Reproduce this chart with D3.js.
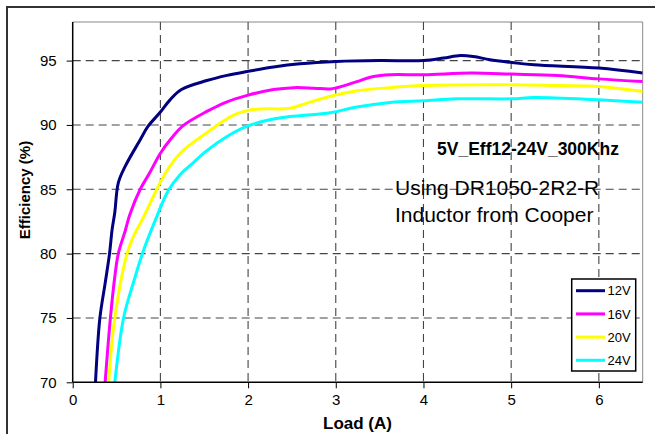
<!DOCTYPE html>
<html><head><meta charset="utf-8">
<script src="https://cdn.jsdelivr.net/npm/d3@7"></script>
<style>body{margin:0;background:#fff}svg{display:block}text{font-family:"Liberation Sans",Arial,sans-serif}</style>
</head><body>
<svg id="c" width="655" height="434"></svg>
<script>
const seriesNames = ["12V", "16V", "20V", "24V"];
const seriesColors = ["#000080", "#ff00ff", "#ffff00", "#00ffff"];
const xTicks = [0, 1, 2, 3, 4, 5, 6];
const yTicks = [70, 75, 80, 85, 90, 95];
const load12 = [0.26,0.31,0.37,0.42,0.45,0.48,0.52,0.60,0.77,0.86,1.0,1.11,1.24,1.53,1.76,1.99,2.29,2.59,3.01,3.5,4.0,4.23,4.42,4.57,4.76,5.01,5.26,6.0,6.5];
const eff12  = [70,75,77.7,80,81.9,83.2,85.5,86.8,88.85,89.9,91.0,91.95,92.75,93.45,93.85,94.15,94.5,94.75,94.93,95.0,95.0,95.2,95.4,95.32,95.06,94.85,94.67,94.42,94.03];
const load16 = [0.37,0.43,0.48,0.52,0.60,0.65,0.77,0.88,1.0,1.13,1.26,1.53,1.76,1.99,2.29,2.52,2.75,2.94,3.09,3.24,3.43,3.62,4.0,4.54,5.01,5.53,6.0,6.5];
const eff16  = [70,75,78.2,80,81.8,83.0,85,86.3,87.8,89.0,89.95,91.05,91.8,92.3,92.75,92.9,92.86,92.8,93.04,93.37,93.76,93.9,93.9,94.03,93.95,93.84,93.58,93.37];
const load20 = [0.41,0.48,0.62,0.69,0.79,0.96,1.07,1.24,1.53,1.83,2.06,2.48,2.67,3.01,3.24,3.62,4.0,5.01,5.53,6.0,6.5];
const eff20  = [70,75,80,81.3,82.6,85,86.4,87.9,89.4,90.75,91.2,91.3,91.7,92.34,92.65,92.9,93.06,93.12,93.06,92.99,92.6];
const load24 = [0.48,0.58,0.69,0.81,0.96,1.09,1.22,1.38,1.53,1.76,1.99,2.21,2.48,2.94,3.24,3.62,4.0,4.38,5.01,5.26,6.0,6.5];
const eff24  = [70,75,77.7,80.3,82.9,84.9,86.1,87.1,88.0,89.1,89.9,90.35,90.65,90.95,91.4,91.75,91.88,92.03,92.03,92.13,91.95,91.77];
const loads = [load12, load16, load20, load24];
const effs = [eff12, eff16, eff20, eff24];
const titleText = "5V_Eff12-24V_300Khz";
const noteLines = ["Using DR1050-2R2-R", "Inductor from Cooper"];

const svg = d3.select("#c");
const L = 72.7, T = 22, R = 642.7, B = 382.3;
const x = d3.scaleLinear().domain([0, 6.5]).range([L, R]);
const y = d3.scaleLinear().domain([70, 98]).range([B, T]);

// outer frame
svg.append("path").attr("d", `M7,440 L7,7 L660,7`).attr("fill","none").attr("stroke","#333").attr("stroke-width",2);

// plot area border (top/right)
svg.append("path").attr("d", `M${L},${T} L${R},${T} L${R},${B}`).attr("fill","none").attr("stroke","#888").attr("stroke-width",1);

// gridlines
const g = svg.append("g");
g.selectAll(".hg").data(yTicks.filter(d => d > 70)).enter().append("line")
  .attr("x1", L).attr("x2", R).attr("y1", d => y(d)).attr("y2", d => y(d))
  .attr("stroke", "#444").attr("stroke-width", 1.1).attr("stroke-dasharray", "8,5");
g.selectAll(".vg").data(xTicks.filter(d => d > 0)).enter().append("line")
  .attr("y1", T).attr("y2", B).attr("x1", d => x(d)).attr("x2", d => x(d))
  .attr("stroke", "#444").attr("stroke-width", 1.1).attr("stroke-dasharray", "8,5");

// annotation texts
svg.append("text").attr("x", 437).attr("y", 155).attr("font-size", 17.5).attr("font-weight", "bold").attr("fill","#000").text(titleText);
noteLines.forEach((t, i) => {
  svg.append("text").attr("x", 395).attr("y", 195 + i * 26.5).attr("font-size", 21).attr("fill","#000").text(t);
});

// series lines
svg.append("clipPath").attr("id","clip").append("rect").attr("x",L).attr("y",T).attr("width",R-L).attr("height",B-T);
const line = d3.line().x(d => x(d[0])).y(d => y(d[1])).curve(d3.curveCatmullRom.alpha(0.5));
const lg = svg.append("g").attr("clip-path","url(#clip)");
seriesNames.forEach((n, i) => {
  const pts = loads[i].map((v, j) => [v, effs[i][j]]);
  lg.append("path").datum(pts).attr("d", line).attr("fill","none")
    .attr("stroke", seriesColors[i]).attr("stroke-width", 3).attr("stroke-linejoin","round");
});

// axes
const xAxis = d3.axisBottom(x).tickValues(xTicks).tickSize(6).tickPadding(6).tickFormat(d3.format("d"));
const xa = svg.append("g").attr("transform", `translate(0,${B})`).call(xAxis);
const yAxis = d3.axisLeft(y).tickValues(yTicks).tickSize(6).tickPadding(10).tickFormat(d3.format("d"));
const ya = svg.append("g").attr("transform", `translate(${L},0)`).call(yAxis);
[xa, ya].forEach(a => {
  a.select(".domain").attr("stroke", "#000").attr("stroke-width", 1.5);
  a.selectAll(".tick line").attr("stroke", "#000").attr("stroke-width", 1);
  a.selectAll(".tick text").attr("font-size", 15).attr("fill", "#000").attr("font-family", '"Liberation Sans",Arial,sans-serif');
});
xa.select(".domain").attr("d", `M${L},0H${R}`);
ya.select(".domain").attr("d", `M0,${T}V${B}`);

// axis titles
svg.append("text").attr("x", 357.5).attr("y", 429).attr("text-anchor","middle").attr("font-size", 17).attr("font-weight","bold").text("Load (A)");
svg.append("text").attr("transform", "translate(30,190) rotate(-90)").attr("text-anchor","middle").attr("font-size", 15).attr("font-weight","bold").text("Efficiency (%)");

// legend
const leg = svg.append("g");
leg.append("rect").attr("x", 571.7).attr("y", 279).attr("width", 64).attr("height", 92).attr("fill","#fff").attr("stroke","#000").attr("stroke-width",1.5);
seriesNames.forEach((n, i) => {
  const yy = 290.7 + i * 23.2;
  leg.append("line").attr("x1", 576).attr("x2", 605).attr("y1", yy).attr("y2", yy).attr("stroke", seriesColors[i]).attr("stroke-width", 3);
  leg.append("text").attr("x", 607.5).attr("y", yy).attr("dy", "0.36em").attr("font-size", 13).text(n);
});
</script>
</body></html>
